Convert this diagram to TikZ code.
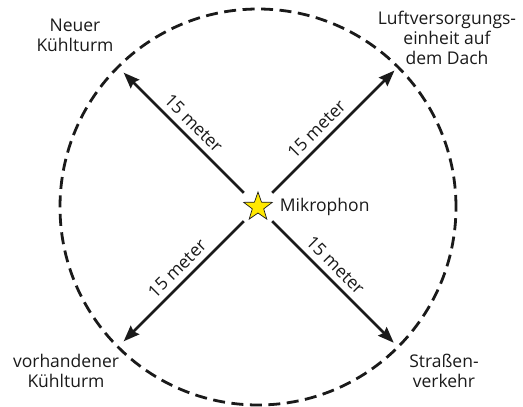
\documentclass[tikz,border=0pt]{standalone}
\usepackage{fontspec}
\setmainfont{Open Sans}
\usetikzlibrary{positioning, shapes.geometric, arrows.meta, calc}
\definecolor{starfill}{HTML}{FFE800}
\definecolor{inkcol}{HTML}{1A1A1A}
\tikzset{
  % dashed circle = measuring radius
  radiusring/.style={draw=inkcol, line width=2.8pt,
                dash pattern=on 12pt off 6.5pt},
  % text around the circle
  place/.style={align=center, text=inkcol, inner sep=0pt,
                font=\fontsize{17.5}{20}\selectfont},
  % star = microphone position
  mic/.style={star, star points=5, star point ratio=2.5, fill=starfill,
              draw=inkcol, line width=0.7pt, inner sep=0pt, minimum size=30pt},
  % distance arrows, pointing outwards
  outarrow/.style={draw=inkcol, line width=2.6pt, shorten <=20pt,
                   -{Stealth[length=16pt,width=12pt,inset=2pt]}},
  inarrow/.style={draw=inkcol, line width=2.6pt, shorten >=20pt,
                  {Stealth[length=16pt,width=12pt,inset=2pt]}-},
  dist/.style={sloped, above=6pt, inner sep=0pt, text=inkcol,
               font=\fontsize{17.5}{20}\selectfont},
}
\begin{document}
\begin{tikzpicture}[x=1pt,y=1pt]
  \useasboundingbox (-258,-200) rectangle (265,207);
  \draw[radiusring] (0,0) circle (198);
  \node[mic] (mic) at (0,0) {};
  \node[place, right=13pt of mic] (miclabel) {Mikrophon};
  \coordinate (nw) at (135:190);
  \coordinate (ne) at (45:193);
  \coordinate (sw) at (225:190);
  \coordinate (se) at (-45:192);
  \draw[inarrow] (nw) -- (mic.center) node[dist, pos=0.45] {15 meter};
  \draw[outarrow] (mic.center) -- (ne) node[dist, pos=0.5] {15 meter};
  \draw[inarrow] (sw) -- (mic.center) node[dist, pos=0.47] {15 meter};
  \draw[outarrow] (mic.center) -- (se) node[dist, pos=0.5] {15 meter};
  \node[place] (newtower) at (-183,172) {Neuer\\Kühlturm};
  \node[place] (airunit) at (189,169) {Luftversorgungs-\\einheit auf\\dem Dach};
  \node[place] (oldtower) at (-192,-164) {vorhandener\\Kühlturm};
  \node[place] (traffic) at (186,-164) {Straßen-\\verkehr};
\end{tikzpicture}
\end{document}
